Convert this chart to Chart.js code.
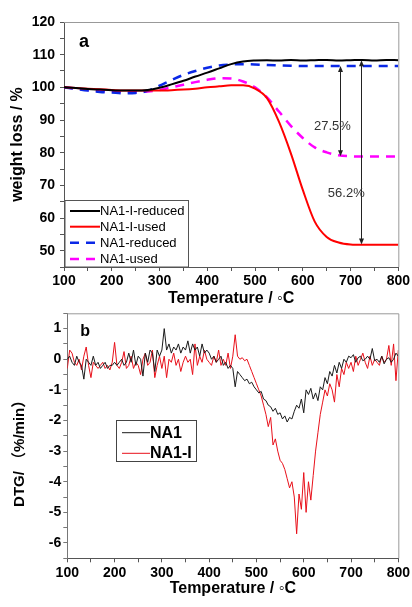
<!DOCTYPE html>
<html><head><meta charset="utf-8">
<script src="https://cdn.jsdelivr.net/npm/chart.js@4/dist/chart.umd.min.js"></script>
<style>
html,body{margin:0;padding:0;background:#fff;}
#wrap{position:relative;width:412px;height:607px;overflow:hidden;background:#fff;}
canvas{position:absolute;left:0;}
#ca{top:0;} #cb{top:300px;}
</style></head><body>
<div id="wrap"><canvas id="ca" width="412" height="310"></canvas><canvas id="cb" width="412" height="307"></canvas></div>
<script>
const FONT = '"Liberation Sans", Arial, "Noto Sans CJK SC", sans-serif';

// ---------- Panel a : TG ----------
const tempA = [100,125,150,175,200,225,250,275,300,325,350,375,400,425,450,475,500,525,550,575,600,625,650,675,700,725,750,775,800];
const na1iReduced = [100.0,99.8,99.5,99.3,99.1,99.0,99.0,99.2,99.9,100.9,102.0,103.3,104.5,105.8,107.1,107.9,108.2,108.3,108.2,108.4,108.2,108.3,108.4,108.2,108.3,108.4,108.2,108.4,108.3];
const na1iUsed = [100.0,99.8,99.6,99.4,99.2,99.0,99.0,99.0,99.0,99.1,99.3,99.6,100.0,100.3,100.6,100.6,99.6,96.7,89.5,79.8,68.6,58.9,54.2,52.5,51.9,51.8,51.8,51.8,51.8];
const na1Reduced = [100.0,99.5,99.0,98.6,98.4,98.2,98.3,98.9,100.5,102.2,103.8,105.0,106.0,106.7,107.0,107.1,107.0,106.8,106.7,106.6,106.5,106.5,106.5,106.5,106.5,106.5,106.5,106.5,106.5];
const na1Used = [100.0,99.6,99.2,98.9,98.7,98.6,98.6,98.7,99.2,100.0,100.8,101.6,102.3,102.8,102.7,101.8,100.0,96.9,92.6,88.2,84.5,81.6,80.1,79.2,78.9,78.8,78.8,78.8,78.8];
const seriesNamesA = ['NA1-I-reduced','NA1-I-used','NA1-reduced','NA1-used'];
const xTicksA = [100,200,300,400,500,600,700,800];
const yTicksA = [50,60,70,80,90,100,110,120];

// weight-loss annotations (temperature, upper value, lower value, label)
const lossText = ['27.5%','56.2%'];
const lossTemp = [677,722];
const lossUpper = [106.5,108.3];
const lossLower = [78.9,51.9];
const lossTextTemp = [662,691];
const lossTextValue = [88.0,67.6];

// ---------- Panel b : DTG ----------
const tempB = [100,105,110,115,120,125,130,135,140,145,150,155,160,165,170,175,180,185,190,195,
200,205,210,215,220,225,230,235,240,245,250,255,260,265,270,275,280,285,290,295,
300,305,310,315,320,325,330,335,340,345,350,355,360,365,370,375,380,385,390,395,
400,405,410,415,420,425,430,435,440,445,450,455,460,465,470,475,480,485,490,495,
500,505,510,515,520,525,530,535,540,545,550,555,560,565,570,575,580,585,590,595,
600,605,610,615,620,625,630,635,640,645,650,655,660,665,670,675,680,685,690,695,
700,705,710,715,720,725,730,735,740,745,750,755,760,765,770,775,780,785,790,795,800];
const dtgNA1 = [
0.0,0.1,-0.1,-0.2,0.1,-0.1,-0.2,-0.65,0.0,-0.1,
-0.2,0.1,-0.2,-0.1,-0.3,-0.2,-0.1,-0.3,-0.2,-0.2,
-0.1,-0.2,-0.1,0.0,-0.2,-0.1,0.2,-0.1,0.3,-0.2,
0.1,0.0,-0.55,0.2,-0.1,0.3,0.2,-0.4,0.3,0.1,
0.3,1.0,0.3,0.5,0.2,0.4,0.3,0.5,0.2,0.4,
0.3,0.6,0.2,0.5,0.3,0.4,0.1,0.5,0.2,0.3,
0.2,0.0,0.1,-0.1,0.0,0.1,-0.2,-0.1,-0.3,-0.2,
-0.3,-0.9,-0.4,-0.5,-0.6,-0.7,-0.65,-0.8,-0.75,-0.9,
-1.0,-1.1,-1.05,-1.3,-1.35,-1.5,-1.55,-1.7,-1.6,-1.8,
-1.75,-1.95,-1.85,-2.05,-1.9,-1.95,-1.7,-1.5,-1.6,-1.3,
-1.75,-1.0,-1.15,-0.95,-1.3,-1.1,-1.35,-0.9,-1.0,-0.6,
-0.8,-0.4,-0.55,-0.2,-0.45,-0.1,-0.3,0.0,-0.1,0.1,
0.05,0.15,-0.1,0.05,0.1,-0.05,0.0,0.1,0.0,0.35,
-0.05,0.0,-0.1,0.1,-0.15,0.0,0.05,-0.1,0.0,0.2,
0.1];
const dtgNA1I = [
-0.3,0.3,0.2,-0.1,-0.2,0.0,-0.35,0.1,0.4,-0.2,
-0.6,-0.1,-0.2,-0.3,-0.2,-0.1,-0.3,-0.2,-0.35,-0.1,
0.55,-0.2,-0.3,-0.1,0.25,-0.3,-0.2,0.1,-0.3,-0.1,
-0.2,-0.5,0.0,0.2,-0.2,-0.1,0.3,-0.6,-0.2,0.1,
-0.3,0.1,-0.6,0.0,-0.1,0.2,-0.2,0.0,-0.4,-0.1,
0.1,-0.1,0.0,-0.5,0.5,-0.2,0.1,-0.1,0.3,0.0,
-0.1,-0.2,0.1,-0.1,0.3,-0.2,0.0,-0.2,0.2,-0.3,
0.1,0.8,0.1,0.0,0.05,-0.05,0.0,-0.2,-0.4,-0.6,
-0.8,-1.0,-1.2,-1.5,-1.8,-2.2,-1.9,-2.8,-2.6,-3.0,
-3.3,-3.4,-3.6,-3.9,-4.2,-4.0,-4.5,-5.7,-4.4,-4.9,
-3.7,-5.0,-4.0,-4.6,-3.8,-3.0,-2.4,-1.8,-1.4,-1.0,
-1.2,-0.8,-1.0,-1.4,-0.5,-0.9,-0.3,-0.5,-0.1,-0.3,
-0.1,-0.4,0.1,-0.2,0.0,0.2,-0.1,-0.3,0.1,-0.2,
0.0,-0.1,-0.2,0.1,-0.1,0.0,0.45,-0.2,0.5,-0.7,
0.3];
const seriesNamesB = ['NA1','NA1-I'];
const xTicksB = [100,200,300,400,500,600,700,800];
const yTicksB = [1,0,-1,-2,-3,-4,-5,-6];

const pts = (xs, ys) => xs.map((x, i) => ({x: x, y: ys[i]}));

// ---------- helpers ----------
function frameLines(color) {
  return {
    id: 'frame',
    afterDatasetsDraw(chart) {
      const {ctx, chartArea: a} = chart;
      ctx.save();
      ctx.strokeStyle = color; ctx.lineWidth = 1;
      ctx.beginPath();
      ctx.moveTo(a.left, a.top + 0.5); ctx.lineTo(a.right + 0.5, a.top + 0.5);
      ctx.lineTo(a.right + 0.5, a.bottom);
      ctx.stroke();
      ctx.restore();
    }
  };
}

function arrowHead(ctx, x, y, dir) {
  ctx.beginPath();
  ctx.moveTo(x, y);
  ctx.lineTo(x - 2.5, y - dir * 6);
  ctx.lineTo(x + 2.5, y - dir * 6);
  ctx.closePath();
  ctx.fill();
}

const annotA = {
  id: 'annotA',
  afterDatasetsDraw(chart) {
    const {ctx, scales: {x, y}} = chart;
    ctx.save();
    ctx.strokeStyle = '#222'; ctx.fillStyle = '#222'; ctx.lineWidth = 1;
    for (let i = 0; i < lossTemp.length; i++) {
      const px = Math.round(x.getPixelForValue(lossTemp[i])) + 0.5;
      const y1 = y.getPixelForValue(lossUpper[i]);
      const y2 = y.getPixelForValue(lossLower[i]);
      ctx.beginPath(); ctx.moveTo(px, y1 + 2); ctx.lineTo(px, y2 - 2); ctx.stroke();
      arrowHead(ctx, px, y1, -1);
      arrowHead(ctx, px, y2, 1);
    }
    ctx.font = '13px ' + FONT;
    ctx.fillStyle = '#333';
    ctx.textAlign = 'center'; ctx.textBaseline = 'middle';
    for (let i = 0; i < lossText.length; i++) {
      ctx.fillText(lossText[i], x.getPixelForValue(lossTextTemp[i]), y.getPixelForValue(lossTextValue[i]));
    }
    // panel letter
    ctx.fillStyle = '#000';
    ctx.font = 'bold 18px ' + FONT;
    ctx.textAlign = 'left';
    ctx.fillText('a', chart.chartArea.left + 15, chart.chartArea.top + 20);
    ctx.restore();
  }
};

const legendA = {
  id: 'legendA',
  afterDraw(chart) {
    const {ctx, chartArea: a} = chart;
    const left = a.left + 1, top = 200.5, right = 188.5, bottom = a.bottom;
    ctx.save();
    ctx.fillStyle = '#fff';
    ctx.fillRect(left, top, right - left, bottom - top);
    ctx.strokeStyle = '#555'; ctx.lineWidth = 1;
    ctx.strokeRect(left, top, right - left, bottom - top);
    const rows = [211, 226.7, 242.7, 259];
    chart.data.datasets.forEach((ds, i) => {
      ctx.strokeStyle = ds.borderColor;
      ctx.lineWidth = ds.borderWidth;
      ctx.setLineDash(ds.borderDash || []);
      ctx.beginPath(); ctx.moveTo(70, rows[i]); ctx.lineTo(100, rows[i]); ctx.stroke();
      ctx.setLineDash([]);
      ctx.fillStyle = '#000';
      ctx.font = '13px ' + FONT;
      ctx.textAlign = 'left'; ctx.textBaseline = 'middle';
      ctx.fillText(ds.label, 100, rows[i] + 0.5);
    });
    ctx.restore();
  }
};

const decoB = {
  id: 'decoB',
  afterDraw(chart) {
    const {ctx, chartArea: a} = chart;
    ctx.save();
    // legend
    const left = 116.5, top = 120.5, right = 196.5, bottom = 161.5;
    ctx.fillStyle = '#fff';
    ctx.fillRect(left, top, right - left, bottom - top);
    ctx.strokeStyle = '#444'; ctx.lineWidth = 1;
    ctx.strokeRect(left, top, right - left, bottom - top);
    const rows = [132.7, 153.3];
    chart.data.datasets.forEach((ds, i) => {
      ctx.strokeStyle = ds.borderColor; ctx.lineWidth = 1;
      ctx.beginPath(); ctx.moveTo(122, rows[i]); ctx.lineTo(150, rows[i]); ctx.stroke();
      ctx.fillStyle = '#000';
      ctx.font = 'bold 16px ' + FONT;
      ctx.textAlign = 'left'; ctx.textBaseline = 'middle';
      ctx.fillText(ds.label, 150, rows[i] + 0.5);
    });
    // panel letter
    ctx.font = 'bold 16px ' + FONT;
    ctx.textAlign = 'left'; ctx.textBaseline = 'middle';
    ctx.fillText('b', a.left + 13, a.top + 18);
    // y title
    ctx.translate(19.5, (a.top + a.bottom) / 2 + 14);
    ctx.rotate(-Math.PI / 2);
    ctx.font = 'bold 15px ' + FONT;
    ctx.textAlign = 'center'; ctx.textBaseline = 'middle';
    ctx.fillText('DTG/ （%/min）', 0, 0);
    ctx.restore();
  }
};

function axisX(ticksList, height, titlePadBottom) {
  return {
    type: 'linear', min: 100, max: 800,
    afterBuildTicks(s) {
      const t = [];
      for (let v = 100; v <= 800; v += 50) t.push({value: v});
      s.ticks = t;
    },
    ticks: {
      autoSkip: false, maxRotation: 0, padding: 2, color: '#000',
      font: {family: FONT, size: 14, weight: 'bold'},
      callback: v => ticksList.includes(v) ? String(v) : ''
    },
    grid: {drawOnChartArea: false, tickLength: 4, tickColor: '#555'},
    border: {color: '#555', width: 1},
    title: {display: true, text: 'Temperature / ◦C', color: '#000',
      font: {family: FONT, size: 16, weight: 'bold'}, padding: {top: 0, bottom: titlePadBottom}},
    afterFit(s) { s.height = height; }
  };
}

// ---------- Chart a ----------
new Chart(document.getElementById('ca'), {
  type: 'line',
  data: {
    datasets: [
      {label: seriesNamesA[0], data: pts(tempA, na1iReduced), borderColor: '#000000', borderWidth: 2, pointRadius: 0, cubicInterpolationMode: 'monotone'},
      {label: seriesNamesA[1], data: pts(tempA, na1iUsed), borderColor: '#ff0000', borderWidth: 2, pointRadius: 0, cubicInterpolationMode: 'monotone'},
      {label: seriesNamesA[2], data: pts(tempA, na1Reduced), borderColor: '#0a28e6', borderWidth: 2.5, borderDash: [9, 7], pointRadius: 0, cubicInterpolationMode: 'monotone'},
      {label: seriesNamesA[3], data: pts(tempA, na1Used), borderColor: '#ff00ff', borderWidth: 2.5, borderDash: [9, 7], pointRadius: 0, cubicInterpolationMode: 'monotone'}
    ]
  },
  options: {
    responsive: false, animation: false, events: [],
    layout: {padding: {left: 0, right: 13, top: 22, bottom: 0}},
    plugins: {legend: {display: false}, tooltip: {enabled: false}},
    scales: {
      x: axisX(xTicksA, 43, 2),
      y: {
        type: 'linear', min: 45, max: 120,
        ticks: {stepSize: 5, autoSkip: false, padding: 5, color: '#000',
          font: {family: FONT, size: 14, weight: 'bold'},
          callback: v => yTicksA.includes(v) ? String(v) : ''},
        grid: {drawOnChartArea: false, tickLength: 4, tickColor: '#555'},
        border: {color: '#555', width: 1},
        title: {display: true, text: 'weight loss / %', color: '#000',
          font: {family: FONT, size: 16, weight: 'bold'}, padding: {top: 8, bottom: 0}},
        afterFit(s) { s.width = 64; }
      }
    }
  },
  plugins: [frameLines('#999'), annotA, legendA]
});

// ---------- Chart b ----------
new Chart(document.getElementById('cb'), {
  type: 'line',
  data: {
    datasets: [
      {label: seriesNamesB[0], data: pts(tempB, dtgNA1), borderColor: '#1a1a1a', borderWidth: 1, pointRadius: 0, tension: 0},
      {label: seriesNamesB[1], data: pts(tempB, dtgNA1I), borderColor: '#e8101a', borderWidth: 1, pointRadius: 0, tension: 0}
    ]
  },
  options: {
    responsive: false, animation: false, events: [],
    layout: {padding: {left: 0, right: 11, top: 13.3, bottom: 0}},
    plugins: {legend: {display: false}, tooltip: {enabled: false}},
    scales: {
      x: axisX(xTicksB, 48.7, 9),
      y: {
        type: 'linear', min: -6.5, max: 1.5,
        ticks: {stepSize: 0.5, autoSkip: false, padding: 2, color: '#000',
          font: {family: FONT, size: 14, weight: 'bold'},
          callback: v => yTicksB.includes(v) ? String(v) : ''},
        grid: {drawOnChartArea: false, tickLength: 4, tickColor: '#777'},
        border: {color: '#777', width: 1},
        afterFit(s) { s.width = 67.3; }
      }
    }
  },
  plugins: [frameLines('#999'), decoB]
});
</script>
</body></html>
